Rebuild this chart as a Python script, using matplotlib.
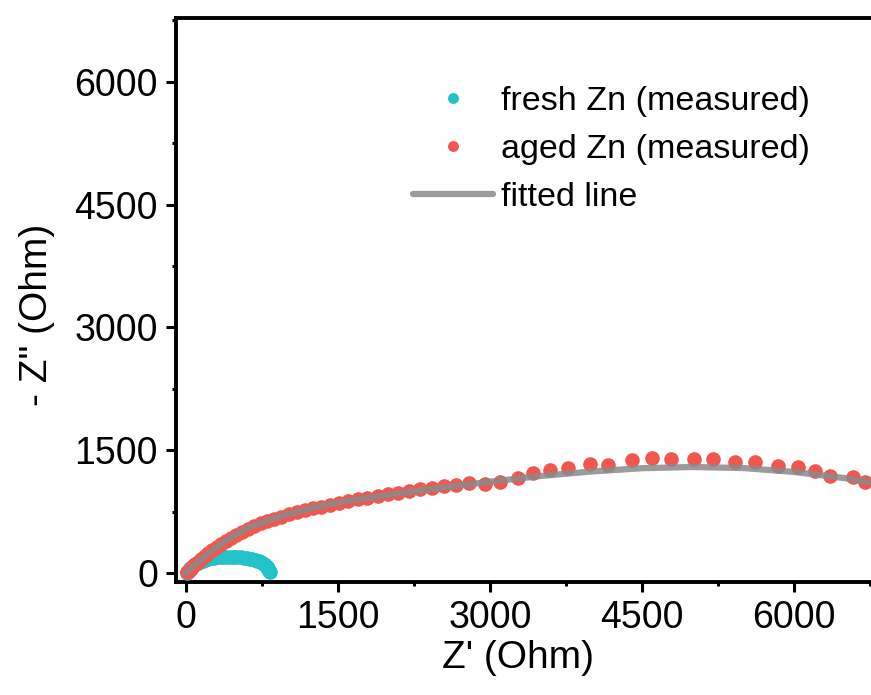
import matplotlib
matplotlib.use("Agg")
import matplotlib.pyplot as plt
from matplotlib.ticker import MultipleLocator

plt.rcParams['font.family'] = ['Liberation Sans', 'DejaVu Sans']

# fresh Zn (measured)
fresh_x = [5, 15, 28, 42, 58, 76, 95, 116, 138, 162, 188, 215, 244, 275, 307, 340,
           373, 406, 440, 473, 506, 538, 569, 598, 626, 652, 676, 698, 718, 736,
           752, 766, 778, 789, 798, 806, 813, 819, 824]
fresh_y = [5, 20, 38, 56, 74, 92, 108, 123, 137, 150, 161, 170, 178, 185, 190, 194,
           196, 197, 197, 196, 194, 191, 187, 182, 176, 169, 161, 152, 142, 131,
           119, 107, 95, 82, 69, 56, 43, 30, 18]

# aged Zn (measured)
aged_x = [10, 25, 45, 68, 92, 120, 150, 185, 220, 260, 300, 345, 390, 440, 495, 550,
          610, 670, 735, 800, 870, 940, 1015, 1090, 1170, 1250, 1335, 1420, 1510,
          1600, 1695, 1790, 1890, 1990, 2095, 2200, 2310, 2425, 2545, 2665, 2790,
          2951, 3099, 3276, 3424, 3592, 3770, 3987, 4164, 4401, 4598, 4786, 5013,
          5200, 5418, 5615, 5842, 6039, 6207, 6355, 6582, 6700]
aged_y = [10, 28, 52, 80, 108, 140, 172, 206, 240, 278, 314, 352, 388, 428, 466, 502,
          540, 574, 606, 636, 664, 690, 715, 740, 764, 788, 812, 835, 858,
          878, 900, 920, 940, 962, 982, 1002, 1022, 1042, 1062, 1080, 1098,
          1085, 1110, 1161, 1222, 1259, 1283, 1332, 1320, 1381, 1400, 1393, 1395,
          1395, 1360, 1356, 1308, 1295, 1247, 1185, 1173, 1112]

# fitted line
fit_x = [0, 50, 100, 200, 300, 450, 600, 800, 1000, 1250, 1500, 1750, 2000, 2500,
         3000, 3500, 4000, 4500, 5000, 5500, 6000, 6500, 7000]
fit_y = [0, 60, 115, 220, 315, 440, 545, 640, 715, 795, 860, 910, 955, 1040,
         1115, 1185, 1240, 1280, 1295, 1282, 1235, 1160, 1060]

x_ticks = [0, 1500, 3000, 4500, 6000]
y_ticks = [0, 1500, 3000, 4500, 6000]

W, H = 871, 695
fig = plt.figure(figsize=(W / 100, H / 100), dpi=100)
left, right, top, bottom = 176, 895, 18, 582
ax = fig.add_axes([left / W, 1 - bottom / H, (right - left) / W, (bottom - top) / H])

cyan = '#22c3c8'
red = '#f2564e'
gray = '#8a8a8a'

ax.plot(fresh_x, fresh_y, 'o', color=cyan, markersize=10.5, markeredgewidth=0,
        label='fresh Zn (measured)', zorder=3)
ax.plot(aged_x, aged_y, 'o', color=red, markersize=10.5, markeredgewidth=0,
        label='aged Zn (measured)', zorder=3)
ax.plot(fit_x, fit_y, '-', color=gray, linewidth=4.5, alpha=0.85,
        label='fitted line', zorder=4, solid_capstyle='round')

ax.set_xlim(-100, 7000)
ax.set_ylim(-110, 6780)
ax.set_xticks(x_ticks)
ax.set_yticks(y_ticks)
ax.xaxis.set_minor_locator(MultipleLocator(750))
ax.yaxis.set_minor_locator(MultipleLocator(750))

ax.spines['right'].set_visible(False)
for s in ['left', 'bottom', 'top']:
    ax.spines[s].set_linewidth(2.8)

ax.tick_params(which='major', direction='out', length=7, width=2.2,
               labelsize=27, pad=6, colors='black')
ax.tick_params(which='minor', direction='out', length=3, width=2.2)
ax.tick_params(top=False, right=False, which='both')

ax.set_xlabel("Z' (Ohm)", fontsize=28)
ax.set_ylabel('- Z" (Ohm)', fontsize=28)
ax.xaxis.set_label_coords((518 - left) / (right - left), (bottom - 640) / (bottom - top))
ax.yaxis.set_label_coords((55 - left) / (right - left), (bottom - 315) / (bottom - top))

leg = ax.legend(loc='upper left', bbox_to_anchor=(413 / W, 1 - 86 / H),
                bbox_transform=fig.transFigure, frameon=False, fontsize=24.5,
                handlelength=2.35, handletextpad=0.25, labelspacing=0.5,
                borderpad=0, borderaxespad=0, markerscale=0.75)

fig.savefig('out.png', dpi=100)
